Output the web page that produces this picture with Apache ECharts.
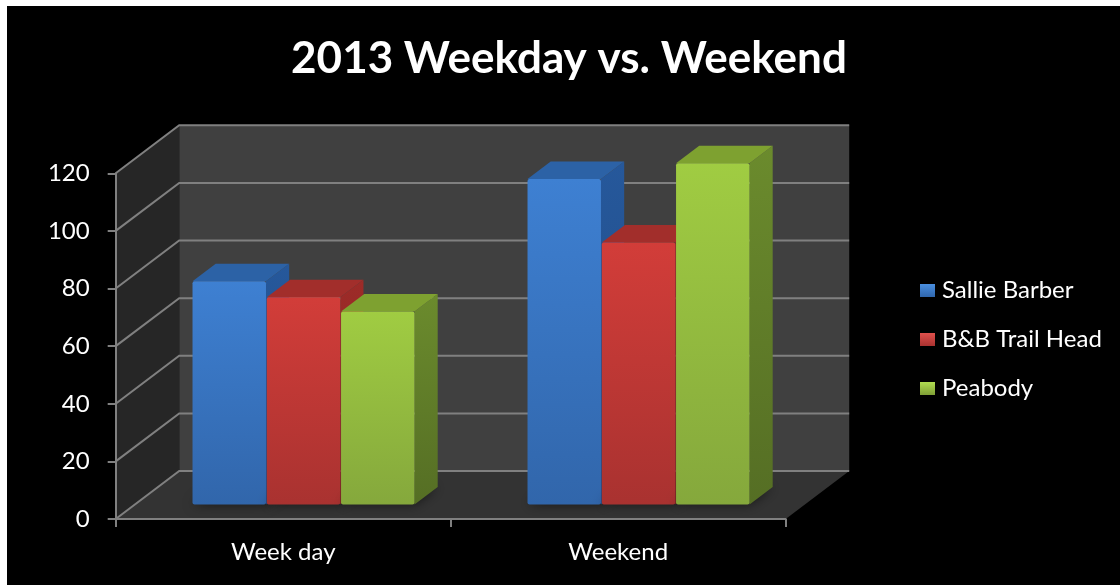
<!DOCTYPE html>
<html><head><meta charset="utf-8">
<style>html,body{margin:0;padding:0;background:#fff}#c{width:1120px;height:585px}</style>
<script src="https://cdn.jsdelivr.net/npm/echarts@6/dist/echarts.min.js"></script>
</head><body><div id="c"></div>
<script>
const categories = ['Week day', 'Weekend'];
const seriesNames = ['Sallie Barber', 'B&B Trail Head', 'Peabody'];
const sallieBarber = [77.5, 113];
const bbTrailHead = [72, 91];
const peabody = [67, 118.5];
const yTicks = [0, 20, 40, 60, 80, 100, 120];
const FONT = 'Lato, Carlito, "Open Sans", sans-serif';

const DX = 63.5, DY = 48;        // full depth of the 3D box
const F0 = 0.30, F1 = 0.665;     // bar front / back depth fraction
const palette = [
  {front:['#3e80d2','#3166ab'], side:['#26589b','#1f4b85'], top:'#2c62a6', key:['#4a8fe0','#2f66ad']},
  {front:['#d23d39','#a93230'], side:['#9d2b28','#852422'], top:'#a22e2b', key:['#e0504c','#a93230']},
  {front:['#a0cc42','#85a83c'], side:['#6b8b2d','#556e24'], top:'#7ea130', key:['#b0dc50','#7f9f36']}
];
function vgrad(a, b){return {type:'linear',x:0,y:0,x2:0,y2:1,colorStops:[{offset:0,color:a},{offset:1,color:b}]};}

function renderWalls(params, api){
  const r = params.coordSys, v = api.value(0);
  const y = api.coord([0, v])[1];
  const L = r.x, R = r.x + r.width, T = r.y, B = r.y + r.height;
  const ch = [];
  if (params.dataIndex === 0){
    ch.push({type:'polygon',shape:{points:[[L+DX,T-DY],[R+DX,T-DY],[R+DX,B-DY],[L+DX,B-DY]]},style:{fill:'#404040'}});
    ch.push({type:'polygon',shape:{points:[[L,T],[L+DX,T-DY],[L+DX,B-DY],[L,B]]},style:{fill:'#262626'}});
    ch.push({type:'polygon',shape:{points:[[L,B],[R,B],[R+DX,B-DY],[L+DX,B-DY]]},style:{fill:'#333333'}});
  }
  ch.push({type:'polyline',shape:{points:[[L,y],[L+DX,y-DY],[R+DX,y-DY]]},style:{fill:null,stroke:'#808080',lineWidth:2}});
  return {type:'group',children:ch};
}

function renderBar(params, api){
  const s = params.seriesIndex - 1, cat = api.value(0), val = api.value(1);
  const c = palette[s];
  const catW = api.size([1,0])[0], w = catW / 4.56;
  const base = api.coord([cat, 0]), top = api.coord([cat, val]);
  const x0 = base[0] + 0.32*DX + (s - 1.5)*w + (s - 1)*0.8;
  const x1 = x0 + w;
  const yb = base[1] - F0*DY, yt = top[1] - F0*DY;
  const ox = (F1 - F0)*DX, oy = (F1 - F0)*DY;
  return {type:'group',children:[
    {type:'polygon',shape:{points:[[x0,yb],[x1,yb],[x1+ox,yb-oy],[x0+ox,yb-oy]]},
     style:{fill:'#2a2a2a',shadowBlur:12,shadowColor:'rgba(0,0,0,0.55)'}},
    {type:'polygon',shape:{points:[[x1,yt],[x1+ox,yt-oy],[x1+ox,yb-oy],[x1,yb]]},style:{fill:vgrad(c.side[0],c.side[1])}},
    {type:'polygon',shape:{points:[[x0,yt],[x0+ox,yt-oy],[x1+ox,yt-oy],[x1,yt]]},style:{fill:c.top}},
    {type:'rect',shape:{x:x0,y:yt,width:w,height:yb-yt,r:2},style:{fill:vgrad(c.front[0],c.front[1])}}
  ]};
}

const values = [sallieBarber, bbTrailHead, peabody];
const option = {
  animation:false,
  backgroundColor:'#ffffff',
  graphic:[{type:'rect',z:-10,shape:{x:7,y:6,width:1113,height:579},style:{fill:'#000'},silent:true}],
  title:{text:'2013 Weekday vs. Weekend',left:564,top:32,textAlign:'center',
    textStyle:{color:'#fff',fontFamily:FONT,fontWeight:'bold',fontSize:44}},
  legend:{orient:'vertical',left:915,top:272,itemWidth:15,itemHeight:13,itemGap:22,icon:'rect',
    data:seriesNames,selectedMode:false,
    textStyle:{color:'#fff',fontFamily:FONT,fontSize:24,lineHeight:27,padding:[0,0,0,2]}},
  grid:{left:115.7,top:173.3,width:670,height:345.7,containLabel:false},
  xAxis:{type:'category',data:categories,boundaryGap:true,
    axisLine:{show:true,lineStyle:{color:'#808080',width:2}},
    axisTick:{show:true,alignWithLabel:false,length:8,lineStyle:{color:'#808080',width:2}},
    axisLabel:{color:'#fff',fontFamily:FONT,fontSize:24,margin:21},splitLine:{show:false}},
  yAxis:{type:'value',min:0,max:120,interval:20,
    axisLine:{show:true,lineStyle:{color:'#808080',width:2}},
    axisTick:{show:true,length:8,lineStyle:{color:'#808080',width:2}},
    axisLabel:{color:'#fff',fontFamily:FONT,fontSize:24,margin:26},splitLine:{show:false}},
  series:[
    {type:'custom',name:'walls',renderItem:renderWalls,silent:true,z:0,
     encode:{y:0},data:yTicks.map(v=>[v])}
  ].concat(seriesNames.map((n,i)=>({
    type:'custom',name:n,renderItem:renderBar,z:1+i,
    itemStyle:{color:vgrad(palette[i].key[0],palette[i].key[1])},
    encode:{x:0,y:1},
    data:categories.map((_,k)=>[k,values[i][k]])
  })))
};
echarts.init(document.getElementById('c'),null,{renderer:'canvas'}).setOption(option);
</script></body></html>
